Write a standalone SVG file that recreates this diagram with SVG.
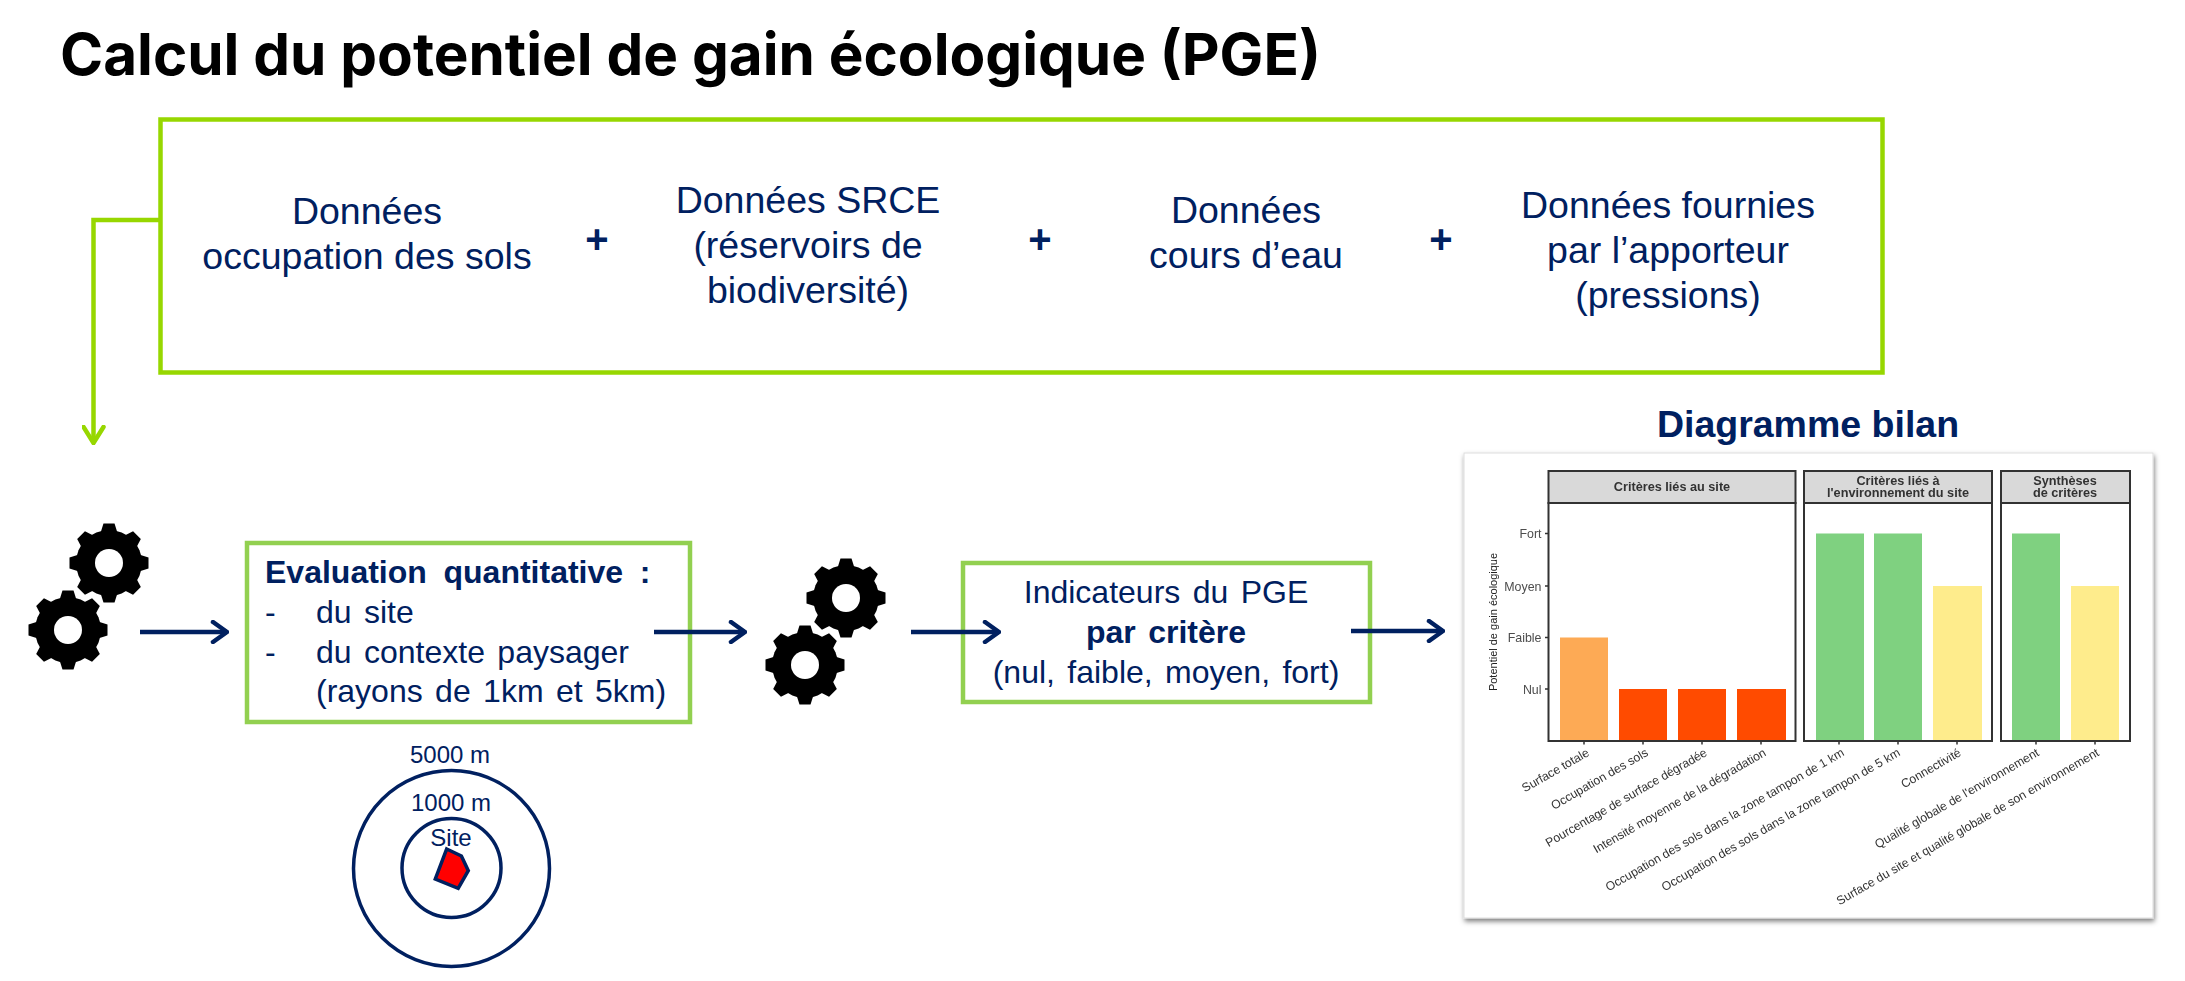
<svg xmlns="http://www.w3.org/2000/svg" width="2185" height="981" viewBox="0 0 2185 981">
<style>
text{font-family:"Liberation Sans",Arial,sans-serif;fill:#002060}
.title{font-family:Inter,"Liberation Sans",sans-serif;font-weight:700;font-size:58.400px;fill:#000}
.t{font-size:37.500px;text-anchor:middle}
.plus{font-size:40px;font-weight:700;text-anchor:middle}
.b{font-size:32px;word-spacing:3.500px}
.c{text-anchor:middle}
.bold{font-weight:700}
.small{font-size:24px;text-anchor:middle}
.box1{fill:none;stroke:#97D700;stroke-width:4.500}
.box2{fill:#fff;stroke:#92D050;stroke-width:4.500}
.navy{fill:none;stroke:#002060;stroke-width:4.500}
.green{fill:none;stroke:#97D700;stroke-width:4.500}
.ring{fill:none;stroke:#002060;stroke-width:3.500}
.strip{fill:#d9d9d9;stroke:#333;stroke-width:2}
.panel{fill:none;stroke:#333;stroke-width:2}
.hdr{font-size:12.700px;font-weight:700;fill:#333;text-anchor:middle}
.ax{font-size:12.400px;fill:#4d4d4d;text-anchor:end}
.xl{font-size:12.200px;fill:#333;text-anchor:end}
.tick{stroke:#333;stroke-width:1.500}
</style>
<defs>
<marker id="ah" viewBox="0 0 20 24" markerWidth="20" markerHeight="24" refX="18" refY="12" orient="auto" markerUnits="userSpaceOnUse"><path d="M4 2L18 12L4 22" fill="none" stroke="#002060" stroke-width="4.500" stroke-linecap="round"/></marker>
<marker id="ag" viewBox="0 0 20 24" markerWidth="20" markerHeight="24" refX="18" refY="12" orient="auto" markerUnits="userSpaceOnUse"><path d="M2 2L18 12L2 22" fill="none" stroke="#97D700" stroke-width="4.500" stroke-linecap="round"/></marker>
<filter id="sh" x="-5%" y="-5%" width="110%" height="110%"><feDropShadow dx="1" dy="3" stdDeviation="2.500" flood-color="#000" flood-opacity=".5"/></filter>
<filter id="soft" x="-5%" y="-5%" width="110%" height="110%"><feGaussianBlur stdDeviation="0.400"/></filter>
<polygon id="tooth" points="-8.500,-30 -5.500,-39.500 5.500,-39.500 8.500,-30" fill="#000"/>
<g id="gear">
<circle r="33" fill="#000"/>
<use href="#tooth"/><use href="#tooth" transform="rotate(45)"/><use href="#tooth" transform="rotate(90)"/><use href="#tooth" transform="rotate(135)"/><use href="#tooth" transform="rotate(180)"/><use href="#tooth" transform="rotate(225)"/><use href="#tooth" transform="rotate(270)"/><use href="#tooth" transform="rotate(315)"/>
<circle r="14" fill="#fff"/>
</g>
</defs>
<rect width="2185" height="981" fill="#fff"/>
<text class="title" x="60" y="75">Calcul du potentiel de gain écologique (PGE)</text>

<g id="connectors">
<path class="green" d="M160 220H93.500V443" marker-end="url(#ag)"/>
</g>

<g id="node-donnees">
<rect class="box1" x="160.500" y="119.500" width="1722" height="253"/>
<text class="t" x="367" y="224">Données</text>
<text class="t" x="367" y="269">occupation des sols</text>
<text class="plus" x="597" y="253">+</text>
<text class="t" x="808" y="213">Données SRCE</text>
<text class="t" x="808" y="258">(réservoirs de</text>
<text class="t" x="808" y="303">biodiversité)</text>
<text class="plus" x="1040" y="253">+</text>
<text class="t" x="1246" y="223">Données</text>
<text class="t" x="1246" y="268">cours d’eau</text>
<text class="plus" x="1441" y="253">+</text>
<text class="t" x="1668" y="218">Données fournies</text>
<text class="t" x="1668" y="263">par l’apporteur</text>
<text class="t" x="1668" y="308">(pressions)</text>
</g>

<g id="gears-1"><use href="#gear" x="109" y="563"/><use href="#gear" x="68" y="630"/></g>

<g id="node-evaluation">
<rect class="box2" x="247" y="543" width="443" height="179"/>
<text class="b bold" x="265" y="583" style="word-spacing:7.800px">Evaluation quantitative :</text>
<text class="b" x="265" y="623">-</text><text class="b" x="316" y="623">du site</text>
<text class="b" x="265" y="663">-</text><text class="b" x="316" y="663">du contexte paysager</text>
<text class="b" x="316" y="702">(rayons de 1km et 5km)</text>
</g>

<g id="gears-2"><use href="#gear" x="846" y="598"/><use href="#gear" x="805" y="665"/></g>

<g id="node-indicateurs">
<rect class="box2" x="963" y="563" width="407" height="139"/>
<text class="b c" x="1166" y="603">Indicateurs du PGE</text>
<text class="b c bold" x="1166" y="643">par critère</text>
<text class="b c" x="1166" y="683">(nul, faible, moyen, fort)</text>
</g>

<g id="connectors-flow">
<path class="navy" d="M140 632H227" marker-end="url(#ah)"/>
<path class="navy" d="M654 632H745" marker-end="url(#ah)"/>
<path class="navy" d="M911 632H999" marker-end="url(#ah)"/>
<path class="navy" d="M1351 631H1443" marker-end="url(#ah)"/>
</g>

<g id="node-site">
<text class="small" x="450" y="763">5000 m</text>
<circle class="ring" cx="451.500" cy="868.500" r="98"/>
<text class="small" x="451" y="811">1000 m</text>
<circle class="ring" cx="451.500" cy="868" r="49.500"/>
<text class="small" x="451" y="846">Site</text>
<polygon points="446.700,849 461.400,856 468.300,870.700 458.200,888.300 435.300,879" fill="#f00" stroke="#002060" stroke-width="3.500"/>
</g>

<text class="bold c" x="1808" y="437" style="font-size:37.500px">Diagramme bilan</text>

<g id="node-chart">
<rect x="1464" y="453" width="689" height="465" fill="#fff" stroke="#ddd" filter="url(#sh)"/>
<g filter="url(#soft)">
<rect x="1560" y="637.500" width="48" height="103.500" fill="#FDAA55"/>
<rect x="1619" y="689" width="48" height="52" fill="#FF4B05"/>
<rect x="1678" y="689" width="48" height="52" fill="#FF4B05"/>
<rect x="1737" y="689" width="49" height="52" fill="#FF4B05"/>
<rect x="1816" y="533.500" width="48" height="207.500" fill="#7FD180"/>
<rect x="1874" y="533.500" width="48" height="207.500" fill="#7FD180"/>
<rect x="1933" y="586" width="49" height="155" fill="#FEEC8C"/>
<rect x="2012" y="533.500" width="48" height="207.500" fill="#7FD180"/>
<rect x="2071" y="586" width="48" height="155" fill="#FEEC8C"/>
<rect class="strip" x="1548.500" y="471" width="247" height="32"/>
<rect class="strip" x="1804" y="471" width="188" height="32"/>
<rect class="strip" x="2001" y="471" width="129" height="32"/>
<rect class="panel" x="1548.500" y="503" width="247" height="238"/>
<rect class="panel" x="1804" y="503" width="188" height="238"/>
<rect class="panel" x="2001" y="503" width="129" height="238"/>
<path class="tick" d="M1545 533.500h3.500M1545 586h3.500M1545 637.500h3.500M1545 689h3.500M1584 741v3.500M1643 741v3.500M1702 741v3.500M1761 741v3.500M1839 741v3.500M1898 741v3.500M1957 741v3.500M2036 741v3.500M2095 741v3.500"/>
<text class="hdr" x="1672" y="491">Critères liés au site</text>
<text class="hdr" x="1898" y="485">Critères liés à</text>
<text class="hdr" x="1898" y="497">l'environnement du site</text>
<text class="hdr" x="2065" y="485">Synthèses</text>
<text class="hdr" x="2065" y="497">de critères</text>
<text class="ax" x="1541.500" y="538">Fort</text>
<text class="ax" x="1541.500" y="590.500">Moyen</text>
<text class="ax" x="1541.500" y="642">Faible</text>
<text class="ax" x="1541.500" y="693.500">Nul</text>
<text transform="translate(1497 622) rotate(-90)" text-anchor="middle" style="font-size:11px;fill:#222">Potentiel de gain écologique</text>
<text class="xl" transform="translate(1590 755) rotate(-30)">Surface totale</text>
<text class="xl" transform="translate(1649 755) rotate(-30)">Occupation des sols</text>
<text class="xl" transform="translate(1708 755) rotate(-30)">Pourcentage de surface dégradée</text>
<text class="xl" transform="translate(1767 755) rotate(-30)">Intensité moyenne de la dégradation</text>
<text class="xl" transform="translate(1845 755) rotate(-30)">Occupation des sols dans la zone tampon de 1 km</text>
<text class="xl" transform="translate(1901 755) rotate(-30)">Occupation des sols dans la zone tampon de 5 km</text>
<text class="xl" transform="translate(1962 755) rotate(-30)">Connectivité</text>
<text class="xl" transform="translate(2040 755) rotate(-30)">Qualité globale de l'environnement</text>
<text class="xl" transform="translate(2100 755) rotate(-30)">Surface du site et qualité globale de son environnement</text>
</g>
</g>
</svg>
